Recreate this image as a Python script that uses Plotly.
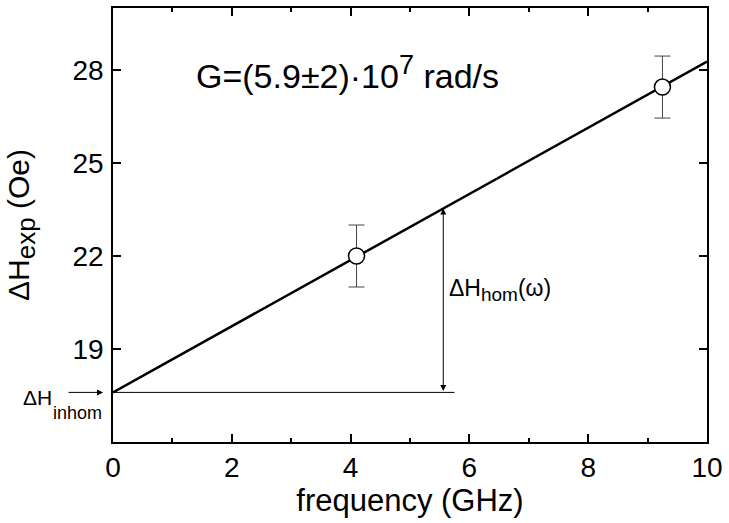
import plotly.graph_objects as go

# data
freq = [4.1, 9.25]
dH_exp = [22.0, 27.45]
dH_err = [1.0, 1.0]
fit_x = [0, 10]
fit_y = [17.6, 28.27]
dH_inhom = 17.6
hom_x = 5.56
hline_x = [0, 5.75]
x_ticks = [0, 2, 4, 6, 8, 10]
y_ticks = [19, 22, 25, 28]

FONT = "Liberation Sans, Arial, sans-serif"
fig = go.Figure()

fig.add_trace(go.Scatter(x=fit_x, y=fit_y, mode="lines",
                         line=dict(color="black", width=2.5), showlegend=False))
fig.add_trace(go.Scatter(x=hline_x, y=[dH_inhom, dH_inhom], mode="lines",
                         line=dict(color="black", width=1), showlegend=False))
fig.add_trace(go.Scatter(x=freq, y=dH_exp, mode="markers",
                         marker=dict(symbol="circle", size=16, color="white",
                                     line=dict(color="black", width=1.5)),
                         error_y=dict(type="data", array=dH_err, color="#444",
                                      thickness=1, width=8),
                         showlegend=False))

hom_top = fit_y[0] + (fit_y[1] - fit_y[0]) * hom_x / (fit_x[1] - fit_x[0])
fig.add_annotation(x=hom_x, y=hom_top, ax=hom_x, ay=dH_inhom, xref="x", yref="y",
                   axref="x", ayref="y", text="", showarrow=True,
                   arrowhead=2, startarrowhead=2, arrowside="end+start",
                   arrowsize=1.2, arrowwidth=1, arrowcolor="black")
fig.add_annotation(x=hom_x + 0.07, y=20.9, xref="x", yref="y", xanchor="left",
                   text="ΔH<sub><span style='font-size:19px'>hom</span></sub>(ω)",
                   showarrow=False,
                   font=dict(family=FONT, size=23, color="black"))
# ΔH_inhom arrow outside the plot (paper coords)
y_inhom_paper = (dH_inhom - 16) / 14
fig.add_annotation(x=-0.0167, y=y_inhom_paper, xref="paper", yref="paper",
                   ax=-36, ay=0, text="", showarrow=True, arrowhead=2, arrowsize=1.2,
                   arrowwidth=1, arrowcolor="black")
fig.add_annotation(x=-0.1, y=y_inhom_paper, xref="paper", yref="paper",
                   xanchor="right", yanchor="middle", yshift=-5,
                   text="ΔH", showarrow=False,
                   font=dict(family=FONT, size=21, color="black"))
fig.add_annotation(x=-0.104, y=y_inhom_paper, xref="paper", yref="paper",
                   xanchor="left", yanchor="middle", yshift=-21,
                   text="inhom", showarrow=False,
                   font=dict(family=FONT, size=18, color="black"))
fig.add_annotation(x=0.137, y=0.851, xref="paper", yref="paper", xanchor="left",
                   yanchor="middle",
                   text="G=(5.9±2)·10<sup><span style='font-size:27px'>7</span></sup> rad/s",
                   showarrow=False,
                   font=dict(family=FONT, size=34, color="black"))

axis_common = dict(showline=True, linecolor="black", linewidth=1.5, mirror="ticks",
                   ticks="inside", ticklen=8, tickwidth=1.5, tickcolor="black",
                   showgrid=False, zeroline=False,
                   tickfont=dict(family=FONT, size=28, color="black"))
fig.update_xaxes(range=[0, 10], tickvals=x_ticks,
                 minor=dict(dtick=1, ticks="inside", ticklen=4, tickcolor="black", tickwidth=1.5),
                 title=dict(text="frequency (GHz)", font=dict(family=FONT, size=31, color="black"),
                            standoff=2),
                 **axis_common)
fig.update_yaxes(range=[16, 30], tickvals=y_ticks, ticklabelstandoff=2,
                 title=dict(text="ΔH<sub><span style='font-size:26px'>exp</span></sub> (Oe)",
                            font=dict(family=FONT, size=30, color="black"),
                            standoff=34),
                 **axis_common)
fig.update_layout(width=729, height=523, margin=dict(l=113, r=16, t=6, b=81),
                  plot_bgcolor="white", paper_bgcolor="white")
fig.write_html("out.html")
